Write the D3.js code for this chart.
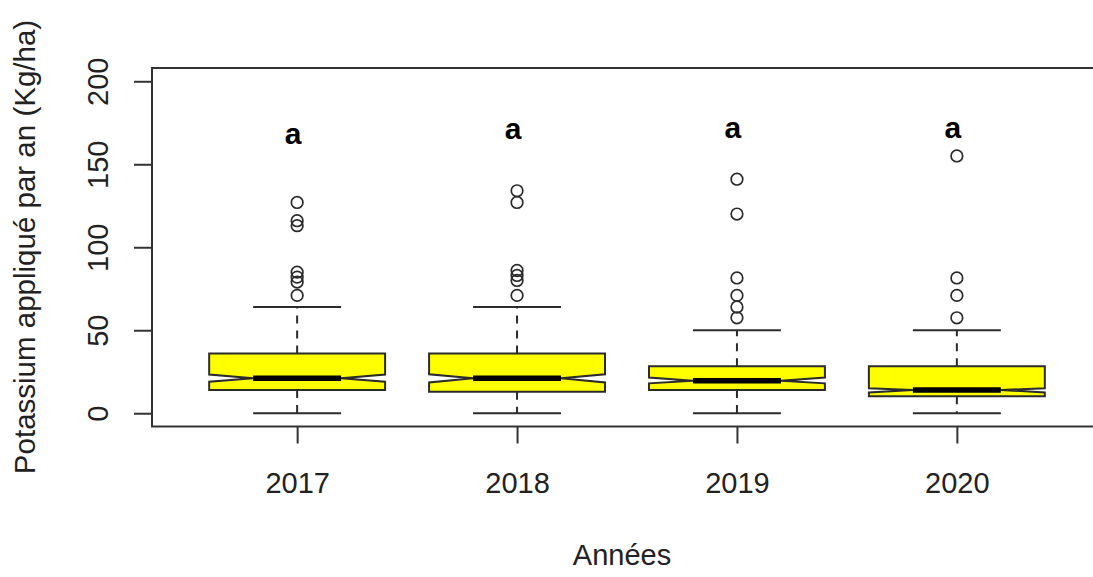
<!DOCTYPE html>
<html>
<head>
<meta charset="utf-8">
<script src="https://cdn.jsdelivr.net/npm/d3@7"></script>
<style>
  body { margin: 0; background: #fff; }
  svg { display: block; font-family: "Liberation Sans", Arial, sans-serif; }
</style>
</head>
<body>
<svg id="chart" width="1093" height="577"></svg>
<script>
// values (Kg/ha)
let years = ['2017', '2018', '2019', '2020'];
let whiskerLo = [0, 0, 0, 0];
let q1 = [14, 13, 14, 10.3];
let notchLo = [19, 18.5, 18, 12.5];
let medians = [21, 21, 19.5, 14];
let notchHi = [23.3, 23.5, 21.5, 15];
let q3 = [36, 36, 28.3, 28.3];
let whiskerHi = [64, 64, 50, 50];
let outliers = [
	[127, 116, 113, 85, 82, 79, 71],
	[134, 127, 86, 83, 80, 71],
	[141, 120, 81.5, 71, 64, 57.5],
	[155, 81.5, 71, 57.5]
];
let groupLetters = ['a', 'a', 'a', 'a'];
let letterY = [162, 165, 166, 166];
let yTicks = [0, 50, 100, 150, 200];

let svg = d3.select('#chart');

let x = d3.scaleLinear()
	.domain([0.34, 4.66])
	.range([152, 1102]);

let y = d3.scaleLinear()
	.domain([-8, 208])
	.range([426.5, 68]);

let halfWidth = x(1.4) - x(1);
let line = '#2b2b2b';

// Whiskers
years.forEach(function(yr, i) {
	let cx = x(i + 1);
	let g = svg.append('g');
	g.append('line')
		.attr('x1', cx).attr('x2', cx)
		.attr('y1', y(q3[i])).attr('y2', y(whiskerHi[i]))
		.attr('stroke', line).attr('stroke-width', 2).attr('stroke-dasharray', '8 7');
	g.append('line')
		.attr('x1', cx).attr('x2', cx)
		.attr('y1', y(q1[i])).attr('y2', y(whiskerLo[i]))
		.attr('stroke', line).attr('stroke-width', 2).attr('stroke-dasharray', '8 7');
	[whiskerHi[i], whiskerLo[i]].forEach(function(v) {
		g.append('line')
			.attr('x1', cx - halfWidth / 2).attr('x2', cx + halfWidth / 2)
			.attr('y1', y(v)).attr('y2', y(v))
			.attr('stroke', line).attr('stroke-width', 2);
	});
});

// Notched boxes
years.forEach(function(yr, i) {
	let cx = x(i + 1);
	let w = halfWidth;
	let pts = [
		[cx - w, q1[i]], [cx - w, notchLo[i]], [cx - w / 2, medians[i]],
		[cx - w, notchHi[i]], [cx - w, q3[i]], [cx + w, q3[i]],
		[cx + w, notchHi[i]], [cx + w / 2, medians[i]], [cx + w, notchLo[i]],
		[cx + w, q1[i]]
	];
	svg.append('polygon')
		.attr('points', pts.map(p => p[0] + ',' + y(p[1])).join(' '))
		.attr('fill', '#ffff00')
		.attr('stroke', line)
		.attr('stroke-width', 2)
		.attr('stroke-linejoin', 'miter');
	svg.append('line')
		.attr('x1', cx - w / 2).attr('x2', cx + w / 2)
		.attr('y1', y(medians[i])).attr('y2', y(medians[i]))
		.attr('stroke', '#000').attr('stroke-width', 5.5);
});

// Outliers
years.forEach(function(yr, i) {
	svg.append('g').selectAll('circle')
		.data(outliers[i])
		.join('circle')
		.attr('cx', x(i + 1))
		.attr('cy', d => y(d))
		.attr('r', 5.8)
		.attr('fill', 'none')
		.attr('stroke', line)
		.attr('stroke-width', 1.7);
});

// Group letters
svg.append('g').selectAll('text')
	.data(groupLetters)
	.join('text')
	.attr('x', (d, i) => x(i + 1) - 4)
	.attr('y', (d, i) => y(letterY[i]))
	.attr('text-anchor', 'middle')
	.attr('font-weight', 'bold')
	.attr('font-size', 30)
	.attr('fill', '#000')
	.text(d => d);

// Plot frame
svg.append('rect')
	.attr('x', 152).attr('y', 68)
	.attr('width', 1102 - 152).attr('height', 426.5 - 68)
	.attr('fill', 'none')
	.attr('stroke', '#333')
	.attr('stroke-width', 2);

// Y axis
let yAxis = svg.append('g')
	.attr('transform', 'translate(152,0)')
	.call(d3.axisLeft(y).tickValues(yTicks).tickSize(18).tickSizeOuter(0));
yAxis.select('.domain')
	.attr('d', 'M0,' + y(0) + 'V' + y(200))
	.attr('stroke', '#333').attr('stroke-width', 2);
yAxis.selectAll('.tick line').attr('stroke', '#333').attr('stroke-width', 2);
yAxis.selectAll('.tick text')
	.attr('transform', 'rotate(-90)')
	.attr('x', 0).attr('y', -44).attr('dy', 0)
	.attr('text-anchor', 'middle')
	.attr('font-size', 29)
	.attr('font-family', '"Liberation Sans", Arial, sans-serif')
	.attr('fill', '#222');

// X axis
let xAxis = svg.append('g')
	.attr('transform', 'translate(0,426.5)')
	.call(d3.axisBottom(x).tickValues([1, 2, 3, 4]).tickFormat((d, i) => years[i]).tickSize(17).tickSizeOuter(0));
xAxis.select('.domain').remove();
xAxis.selectAll('.tick line').attr('stroke', '#333').attr('stroke-width', 2);
xAxis.selectAll('.tick text')
	.attr('y', 66).attr('dy', 0)
	.attr('font-size', 29)
	.attr('font-family', '"Liberation Sans", Arial, sans-serif')
	.attr('fill', '#222');

// Axis titles
svg.append('text')
	.attr('x', 622).attr('y', 565)
	.attr('text-anchor', 'middle')
	.attr('font-size', 29)
	.attr('fill', '#222')
	.text('Années');

svg.append('text')
	.attr('transform', 'translate(35,247) rotate(-90)')
	.attr('text-anchor', 'middle')
	.attr('font-size', 29.5)
	.attr('fill', '#222')
	.text('Potassium appliqué par an (Kg/ha)');
</script>
</body>
</html>
